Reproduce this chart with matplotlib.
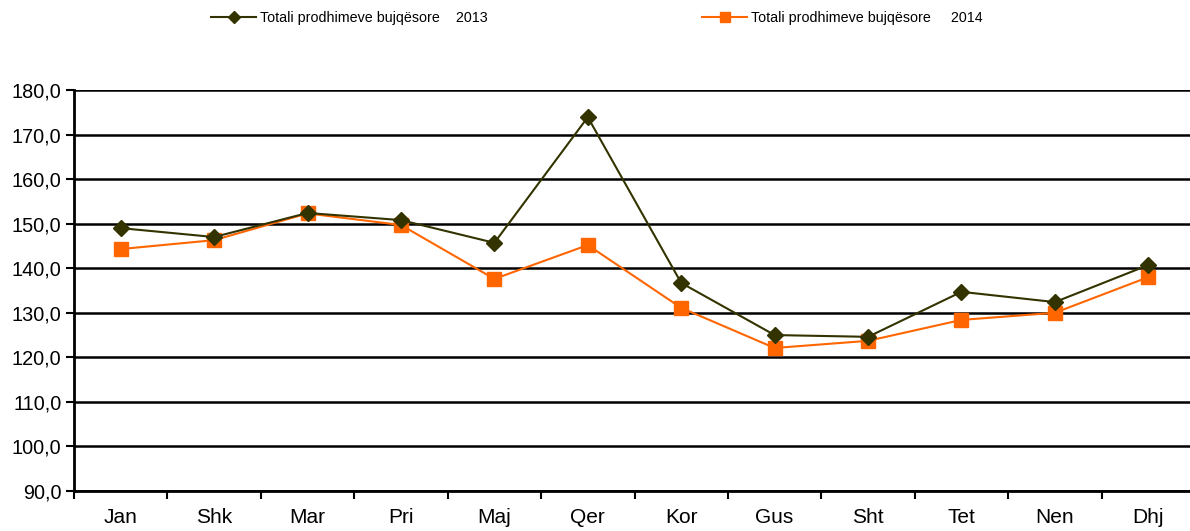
import matplotlib
matplotlib.use('Agg')
import matplotlib.pyplot as plt
import matplotlib.ticker as ticker

plt.rcParams['font.family'] = ['Liberation Sans', 'DejaVu Sans']

muajt = ['Jan', 'Shk', 'Mar', 'Pri', 'Maj', 'Qer', 'Kor', 'Gus', 'Sht', 'Tet', 'Nen', 'Dhj']
vlera_2013 = [149.0, 147.0, 152.4, 150.8, 145.7, 173.9, 136.7, 125.0, 124.6, 134.7, 132.4, 140.7]
vlera_2014 = [144.3, 146.3, 152.3, 149.7, 137.6, 145.2, 131.1, 122.1, 123.7, 128.4, 130.0, 138.0]
etiketa_2013 = 'Totali prodhimeve bujqësore    2013'
etiketa_2014 = 'Totali prodhimeve bujqësore     2014'

fig = plt.figure(figsize=(11.9, 5.31), dpi=100)
ax = fig.add_axes([74 / 1190, 1 - 491 / 531, 1121 / 1190, 401 / 531])

x = range(len(muajt))
ax.plot(x, vlera_2013, color='#333300', lw=1.5, marker='D', ms=8.5, label=etiketa_2013, zorder=4)
ax.plot(x, vlera_2014, color='#FF6600', lw=1.5, marker='s', ms=10, label=etiketa_2014, zorder=3)

ax.set_ylim(90, 180)
ax.set_xlim(-0.5, len(muajt) - 0.5)
ax.yaxis.set_major_locator(ticker.MultipleLocator(10))
ax.yaxis.set_major_formatter(ticker.FuncFormatter(lambda v, pos: ('%.1f' % v).replace('.', ',')))
ax.grid(axis='y', color='black', lw=1.8)
ax.set_axisbelow(True)

# kategorite ne mes, vijat e vogla ndermjet tyre
ax.set_xticks(list(x))
ax.set_xticklabels(muajt)
ax.set_xticks([i - 0.5 for i in range(len(muajt) + 1)], minor=True)
ax.tick_params(axis='x', which='major', length=0, labelsize=15, pad=12)
ax.tick_params(axis='x', which='minor', length=6, width=1.5, direction='out')
ax.tick_params(axis='y', length=6, width=1.5, labelsize=14.3, pad=3)

for s in ['top', 'right']:
    ax.spines[s].set_visible(False)
for s in ['left', 'bottom']:
    ax.spines[s].set_linewidth(2)

fig.legend(loc='center', bbox_to_anchor=(597 / 1190, 1 - 18 / 531), ncol=2, frameon=False,
           fontsize=10.3, handlelength=3.1, columnspacing=15, handletextpad=0.3, markerscale=0.75)

fig.savefig('out.png', dpi=100)
